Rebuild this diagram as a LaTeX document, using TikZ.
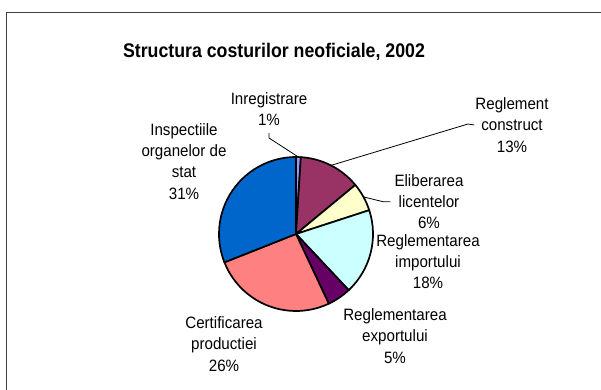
\documentclass[tikz,border=0pt]{standalone}
\usepackage{fontspec}
\setmainfont{Liberation Sans}
\newfontfamily\labfont[FakeStretch=0.92]{Liberation Sans}
\newfontfamily\ttlfont[FakeStretch=0.9]{Liberation Sans Bold}
\usetikzlibrary{calc}
\definecolor{cInreg}{HTML}{9999FF}
\definecolor{cConstr}{HTML}{993366}
\definecolor{cLic}{HTML}{FFFFCC}
\definecolor{cImp}{HTML}{CCFFFF}
\definecolor{cExp}{HTML}{660066}
\definecolor{cCert}{HTML}{FF8080}
\definecolor{cInsp}{HTML}{0066CC}
\tikzset{
  slice/.style={draw=black, line width=1.7bp, line join=round},
  lab/.style={align=center, inner sep=0pt, font=\labfont\fontsize{16.5}{21.5}\selectfont},
  ttl/.style={inner sep=0pt, font=\ttlfont\fontsize{19.8}{22}\selectfont},
  leader/.style={draw=black, line width=0.8bp},
  frame/.style={draw=black!75, line width=1.2bp}
}
\newcommand{\pieslice}[3]{%
  \filldraw[slice, fill=#3] (C) -- ++(#1:77) arc[start angle=#1, end angle=#2, radius=77] -- cycle;}
\begin{document}
\begin{tikzpicture}[x=1bp, y=1bp]
\useasboundingbox (0,0) rectangle (601,389);
\draw[frame] (6.5,376.5) -- (620,376.5);
\draw[frame] (6.5,376.5) -- (6.5,-20);
\coordinate (C) at (296,155);
% slices, clockwise from 12 o'clock
\pieslice{90}{86.4}{cInreg}
\pieslice{86.4}{39.6}{cConstr}
\pieslice{39.6}{18}{cLic}
\pieslice{18}{-46.8}{cImp}
\pieslice{-46.8}{-64.8}{cExp}
\pieslice{-64.8}{-158.4}{cCert}
\pieslice{-158.4}{-270}{cInsp}
% title
\node[ttl] (title) at (274,337) {Structura costurilor neoficiale, 2002};
% labels
\node[lab] (inreg) at (269,280) {Inregistrare\\1\%};
\node[lab] (insp) at (184,227.7) {Inspectiile\\organelor de\\stat\\31\%};
\node[lab] (constr) at (512,264) {Reglement\\construct\\13\%};
\node[lab] (lic) at (429,187.3) {Eliberarea\\licentelor\\6\%};
\node[lab] (imp) at (428,127.3) {Reglementarea\\importului\\18\%};
\node[lab] (exp) at (395,53) {Reglementarea\\exportului\\5\%};
\node[lab] (cert) at (224,45) {Certificarea\\productiei\\26\%};
% leader lines
\coordinate (pInreg) at ($(C)+(88.2:77)$);
\coordinate (bInreg) at (269,251);
\coordinate (tInreg) at (269,256);
\coordinate (pConstr) at ($(C)+(63:77)$);
\coordinate (bConstr) at (468,265);
\coordinate (pLic) at ($(C)+(28.8:77)$);
\coordinate (bLic) at (383,187.3);
\draw[leader] (tInreg) -- (bInreg) -- (pInreg);
\draw[leader] (pConstr) -- (bConstr) -- ([xshift=-1]constr.west);
\draw[leader] (pLic) -- (bLic) -- ([xshift=-4]lic.west);
\end{tikzpicture}
\end{document}
